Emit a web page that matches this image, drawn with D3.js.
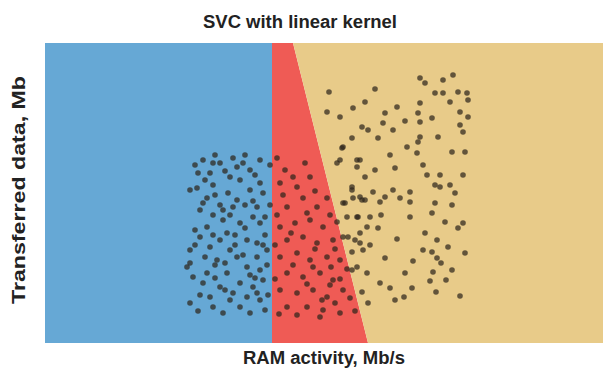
<!DOCTYPE html>
<html>
<head>
<meta charset="utf-8">
<script src="https://cdn.jsdelivr.net/npm/d3@7"></script>
<style>
  body { margin: 0; background: #fff; }
  text { font-family: "Liberation Sans", Arial, sans-serif; font-weight: bold; fill: #222; }
</style>
</head>
<body>
<svg id="chart" width="608" height="371"></svg>
<script>
// decision boundary (data units)
const xDomain = [0, 55.8];
const yDomain = [0, 30];
const blueRedX = 22.7;
const redBeigeTop = 24.8;    // x at y = max
const redBeigeBottom = 32.3; // x at y = 0

const blueX = [15.8,17.5,18.8,19.2,20.5,21.5,16.5,18.5,15.2,16.2,17.5,17.8,19.2,20.5,21.5,21.2,20.8,15.5,16.2,17.8,19.5,21.5,15.5,17.5,18.5,20.2,21.2,16.5,19.2,21.2,14.5,17.2,16.2,18.2,20.2,21.5,15.8,17.5,19.5,20.8,14.5,16.5,18.5,20.2,21.5,16.8,19.5,21.8,22.2,21.8,14.2,14.5,
  15.0,17.0,20.0,22.5,16.0,19.5,22.5,15.0,19.0,22.0,18.0,15.5,22.0,20.5,17.0,18.5,20.0,14.5,16.8,18.3,
  15.3,16.8,18.0,19.8,21.0,15.8,17.0,18.8,20.8,22.0,16.8,18.2,20.0,21.8,15.0,16.0,18.0,19.8,21.0,14.8,17.0,18.8,21.2,15.3,17.8,20.5,22.3,22.2,19.0,16.8];
const blueY = [18.3,18.0,18.5,17.6,17.3,18.3,17.0,16.6,15.5,14.5,13.8,13.3,14.3,15.3,16.0,13.6,12.6,13.3,11.6,12.3,12.0,12.0,10.6,10.3,9.3,10.3,10.0,9.6,8.6,8.6,8.0,8.3,7.0,7.0,7.6,7.3,6.0,5.6,6.0,5.6,4.0,4.6,4.3,4.6,4.3,3.6,3.6,6.3,9.3,15.0,7.6,15.3,
  17.8,18.8,18.8,17.8,16.3,16.3,13.8,11.3,10.8,10.8,5.3,4.8,3.3,6.8,7.8,12.8,13.8,9.3,15.8,15.0,
  17.0,18.0,17.2,18.0,16.8,14.0,14.8,13.6,14.2,12.6,12.8,11.0,11.5,9.8,9.8,8.6,8.0,8.8,6.5,6.6,6.5,5.0,5.0,3.2,3.0,3.0,4.8,7.8,9.8,10.8];

const redX = [23.2,24.0,26.0,26.5,25.2,23.5,25.8,24.2,27.2,28.2,23.5,25.0,26.5,27.8,29.2,24.2,25.8,27.2,28.8,29.8,23.5,25.2,26.5,28.2,29.5,24.2,25.8,27.5,28.8,23.5,25.2,26.8,28.2,29.8,24.2,26.2,27.8,
  23.8,24.8,27.0,26.2,23.2,28.5,24.6,27.0,29.0,23.0,24.8,26.8,28.6,30.2,23.0,26.2,29.0,30.5,23.4,25.2,29.5,31.0,27.5];
const redY = [18.5,17.3,18.0,16.6,15.6,16.0,14.5,13.6,13.6,14.5,11.6,12.0,12.3,11.6,12.1,10.3,10.6,10.0,10.3,10.6,8.6,9.0,8.3,8.6,8.3,7.0,6.6,7.0,6.3,5.3,5.0,5.3,4.6,5.3,3.6,3.6,3.3,
  14.8,16.6,15.2,13.0,12.8,12.8,11.0,9.4,9.4,9.8,7.8,7.6,7.6,7.4,6.4,5.9,4.0,4.5,2.9,2.8,3.0,3.2,2.6];

const beigeX = [28.4,28.2,29.5,30.8,32.0,34.0,35.2,31.7,32.3,33.3,30.7,29.7,33.8,34.5,31.5,31.2,33.0,32.0,29.5,
  37.5,38.0,39.8,39.0,39.8,41.3,42.2,42.3,40.5,37.5,37.3,41.5,42.3,37.5,38.7,41.5,41.8,37.5,37.3,39.3,37.2,40.7,42.0,
  38.2,39.5,39.0,39.5,40.5,41.0,41.8,40.7,39.0,38.7,40.0,41.8,41.3,39.2,40.3,37.8,38.7,
  36.5,36.5,36.5,35.5,34.8,34.0,33.5,32.8,32.0,31.5,30.7,30.8,30.0,30.2,31.3,32.5,33.3,31.5,31.5,32.5,30.3,30.7,
  39.2,39.6,40.7,38.8,40.1,39.1,41.5,36.7,35.9,35.0,33.5,31.7,30.7,29.5,32.3,27.7,28.5,
  29.8,31.2,29.2,30.7,31.7,29.8,31.2,32.2,31.0,31.8,31.2,32.2,
  33.0,34.8,36.2,35.0,37.8,36.0,38.0,36.8,34.0,35.2,33.6,42.0,40.8,38.5,36.0,34.5];
const beigeY = [25.1,23.1,22.6,23.5,24.1,23.0,23.6,21.6,21.3,20.5,20.5,19.5,22.0,18.8,18.3,17.6,17.3,16.6,18.3,
  26.5,26.0,26.3,25.0,25.0,25.1,25.0,24.3,24.1,24.0,23.0,23.1,22.6,22.1,22.5,21.8,21.1,20.6,20.1,20.6,19.0,19.1,19.1,
  16.8,16.8,15.8,15.6,15.8,15.0,16.8,13.8,14.0,13.0,12.1,12.0,11.5,10.3,9.6,9.3,9.1,
  12.6,14.1,15.1,14.5,15.3,14.6,14.1,15.1,14.3,14.6,15.3,14.5,14.0,12.6,12.6,12.6,11.5,11.0,10.0,9.8,10.6,9.1,
  8.5,8.0,7.3,7.1,6.3,5.1,4.7,5.5,4.6,4.3,6.0,5.1,7.3,6.4,4.0,4.3,5.8,
  19.6,18.3,18.0,15.6,14.3,14.0,12.6,11.6,10.3,9.3,7.6,7.0,
  25.4,21.3,19.6,17.5,17.8,22.2,11.0,8.2,8.5,10.4,12.8,9.0,26.8,6.2,7.0,5.5];

const colors = { blue: '#66a8d5', red: '#ef5b55', beige: '#e8cb89' };

const margin = { top: 43, right: 5, bottom: 28, left: 45 };
const width = 608, height = 371;

const svg = d3.select('#chart');
const x = d3.scaleLinear().domain(xDomain).range([margin.left, width - margin.right]);
const y = d3.scaleLinear().domain(yDomain).range([height - margin.bottom, margin.top]);

const line = d3.line().x(d => x(d[0])).y(d => y(d[1]));
const [x0, x1] = xDomain, [y0, y1] = yDomain;

const regions = [
  { fill: colors.blue, pts: [[x0, y0], [blueRedX, y0], [blueRedX, y1], [x0, y1]] },
  { fill: colors.red, pts: [[blueRedX, y0], [redBeigeBottom, y0], [redBeigeTop, y1], [blueRedX, y1]] },
  { fill: colors.beige, pts: [[redBeigeBottom, y0], [x1, y0], [x1, y1], [redBeigeTop, y1]] },
];

svg.append('g')
  .selectAll('path')
  .data(regions)
  .join('path')
  .attr('d', d => line(d.pts) + 'Z')
  .attr('fill', d => d.fill);

const points = [];
[[blueX, blueY], [redX, redY], [beigeX, beigeY]].forEach(([xs, ys]) => {
  xs.forEach((v, i) => points.push([v, ys[i]]));
});

svg.append('g')
  .selectAll('circle')
  .data(points)
  .join('circle')
  .attr('cx', d => x(d[0]))
  .attr('cy', d => y(d[1]))
  .attr('r', 2.8)
  .attr('fill', '#2e261c')
  .attr('fill-opacity', 0.72);

svg.append('text')
  .attr('x', 300)
  .attr('y', 28)
  .attr('text-anchor', 'middle')
  .attr('font-size', 18)
  .attr('textLength', 194)
  .attr('lengthAdjust', 'spacingAndGlyphs')
  .text('SVC with linear kernel');

svg.append('text')
  .attr('x', 324)
  .attr('y', 364)
  .attr('text-anchor', 'middle')
  .attr('font-size', 18)
  .attr('textLength', 162)
  .attr('lengthAdjust', 'spacingAndGlyphs')
  .text('RAM activity, Mb/s');

svg.append('text')
  .attr('transform', 'translate(25, 190) rotate(-90)')
  .attr('text-anchor', 'middle')
  .attr('font-size', 18)
  .attr('textLength', 228)
  .attr('lengthAdjust', 'spacingAndGlyphs')
  .text('Transferred data, Mb');
</script>
</body>
</html>
